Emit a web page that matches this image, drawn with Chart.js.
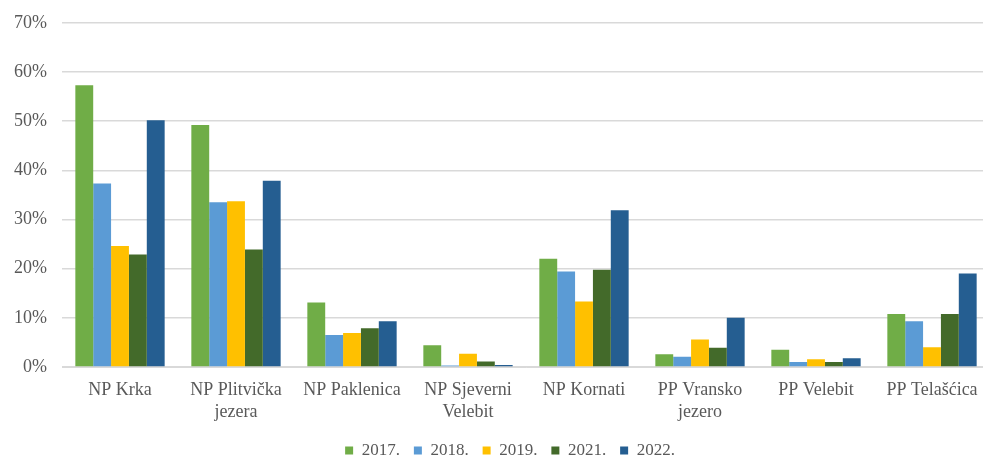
<!DOCTYPE html>
<html>
<head>
<meta charset="utf-8">
<script src="https://cdn.jsdelivr.net/npm/chart.js@4"></script>
<style>
html,body{margin:0;padding:0;background:#fff;overflow:hidden;width:983px;height:457px;}
canvas{display:block;margin-top:-3px;}
</style>
</head>
<body>
<canvas id="c" width="1000" height="469"></canvas>
<script>
const categories = [
  "NP Krka",
  ["NP Plitvička", "jezera"],
  "NP Paklenica",
  ["NP Sjeverni", "Velebit"],
  "NP Kornati",
  ["PP Vransko", "jezero"],
  "PP Velebit",
  "PP Telašćica"
];
const seriesNames = ["2017.", "2018.", "2019.", "2021.", "2022."];
const v2017 = [57.3, 49.2, 13.1, 4.4, 22.0, 2.6, 3.5, 10.8];
const v2018 = [37.3, 33.5, 6.5, 0.3, 19.4, 2.1, 1.0, 9.3];
const v2019 = [24.6, 33.7, 6.9, 2.7, 13.3, 5.6, 1.6, 4.0];
const v2021 = [22.9, 23.9, 7.9, 1.1, 19.8, 3.9, 1.0, 10.8];
const v2022 = [50.2, 37.9, 9.3, 0.4, 31.9, 10.0, 1.8, 19.0];
const yTicks = [0, 10, 20, 30, 40, 50, 60, 70];

const colors = ["#70AD47", "#5B9BD5", "#FFC000", "#436A2A", "#255E91"];
const values = [v2017, v2018, v2019, v2021, v2022];

const FONT = "'Liberation Serif', 'Times New Roman', serif";

const shiftLegend = {
  id: 'shiftLegend',
  afterLayout(chart) {
    const l = chart.legend;
    if (l) { l.left += 15; l.right += 15; l.top += 3; l.bottom += 3; }
  }
};

new Chart(document.getElementById('c'), {
  type: 'bar',
  data: {
    labels: categories,
    datasets: seriesNames.map((n, i) => ({
      label: n,
      data: values[i],
      backgroundColor: colors[i],
      borderWidth: 0,
      categoryPercentage: 0.77,
      barPercentage: 1.0
    }))
  },
  options: {
    responsive: false,
    animation: false,
    layout: { padding: { top: 9, right: 10, left: 0, bottom: 0 } },
    plugins: {
      tooltip: { enabled: false },
      legend: {
        position: 'bottom',
        labels: {
          boxWidth: 8,
          boxHeight: 8,
          padding: 14,
          color: '#595959',
          font: { family: FONT, size: 17 }
        }
      }
    },
    scales: {
      x: {
        afterFit(scale) { scale.height = 58; },
        grid: { display: false, drawTicks: false },
        border: { display: true, color: '#D9D9D9', width: 1 },
        ticks: {
          color: '#595959',
          font: { family: FONT, size: 18, lineHeight: 1.22 },
          padding: 12,
          maxRotation: 0,
          autoSkip: false
        }
      },
      y: {
        min: 0,
        max: 70,
        afterFit(scale) { scale.width = 62; },
        afterBuildTicks(scale) { scale.ticks = yTicks.map(v => ({ value: v })); },
        grid: { color: '#D9D9D9', lineWidth: 1.5, drawTicks: false },
        border: { display: false },
        ticks: {
          color: '#595959',
          font: { family: FONT, size: 18 },
          padding: 15,
          callback: v => v + '%'
        }
      }
    }
  },
  plugins: [shiftLegend]
});
</script>
</body>
</html>
